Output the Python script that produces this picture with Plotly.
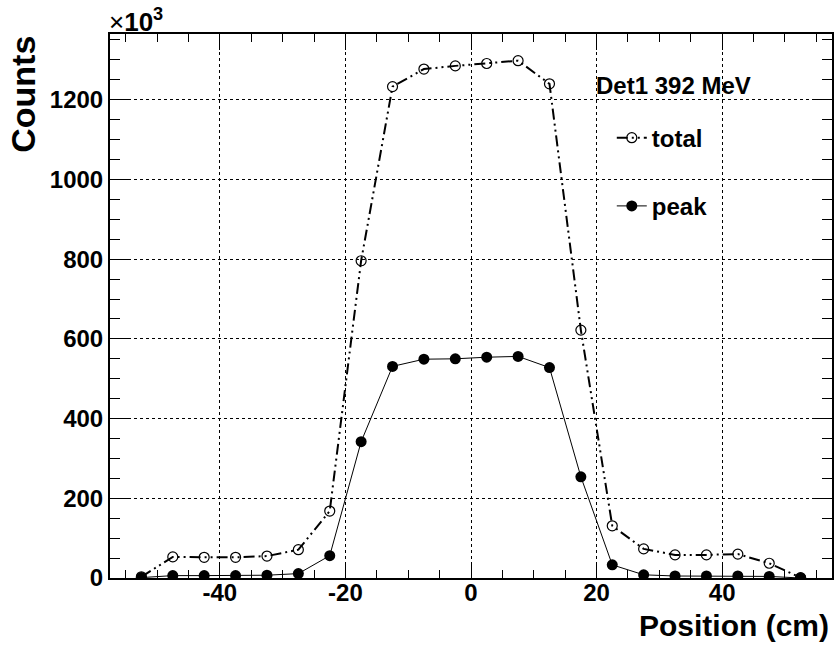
import plotly.graph_objects as go

position = [-52.5, -47.5, -42.5, -37.5, -32.5, -27.5, -22.5, -17.5, -12.5, -7.5, -2.5,
            2.5, 7.5, 12.5, 17.5, 22.5, 27.5, 32.5, 37.5, 42.5, 47.5, 52.5]
total = [3, 53, 52, 52, 55, 71, 168, 796, 1233, 1277, 1285,
         1291, 1298, 1240, 622, 131, 73, 58, 58, 60, 37, 1]
peak = [1, 6, 6, 6, 7, 11, 56, 342, 531, 549, 550,
        554, 556, 528, 254, 33, 8, 5, 5, 5, 4, 0]
x_tickvals = [-40, -20, 0, 20, 40]
x_ticktext = ["-40", "-20", "0", "20", "40"]

FONT = "Liberation Sans, Arial, Helvetica, sans-serif"

fig = go.Figure()
fig.add_trace(go.Scatter(
    x=position, y=total, name="total", mode="lines+markers", legendgroup="a",
    line=dict(color="black", width=2, dash="11px,4px,2px,4px,2px,4px"),
    marker=dict(symbol="circle-open", size=10, color="black", line=dict(width=1.2)),
))
fig.add_trace(go.Scatter(
    x=position, y=peak, name="peak", mode="lines+markers", legendgroup="b",
    line=dict(color="black", width=1),
    marker=dict(symbol="circle", size=11, color="black"),
))

axis_common = dict(
    showline=True, linecolor="black", linewidth=2, mirror="ticks",
    ticks="inside", tickcolor="black", tickwidth=1,
    showgrid=True, gridcolor="black", griddash="dot", gridwidth=1,
    zeroline=False,
    tickfont=dict(family=FONT, size=24, color="black", weight="bold"),
)

fig.update_xaxes(
    range=[-57.5, 57.5], tickmode="array", tickvals=x_tickvals, ticktext=x_ticktext,
    ticklen=16,
    minor=dict(dtick=5, tick0=0, ticks="inside", ticklen=8, tickcolor="black", showgrid=False),
    ticklabelstandoff=-8,
    **axis_common,
)
fig.update_yaxes(
    range=[0, 1365], tick0=0, dtick=200, ticklen=20,
    minor=dict(dtick=50, ticks="inside", ticklen=10, tickcolor="black", showgrid=False),
    ticklabelstandoff=0,
    **axis_common,
)

fig.add_annotation(text="Det1 392 MeV", xref="paper", yref="paper",
                   x=0.67, y=0.905, xanchor="left", yanchor="middle", showarrow=False,
                   font=dict(family=FONT, size=24, color="black", weight="bold"))
fig.add_annotation(text="Counts", xref="paper", yref="paper",
                   x=-0.1215, y=1.0, xanchor="center", yanchor="top", textangle=-90,
                   showarrow=False,
                   font=dict(family=FONT, size=34, color="black", weight="bold"))
fig.add_annotation(text="Position (cm)", xref="paper", yref="paper",
                   x=0.9985, y=-0.088, xanchor="right", yanchor="middle",
                   showarrow=False,
                   font=dict(family=FONT, size=30, color="black", weight="bold"))
fig.add_annotation(text="×<b>10</b><sup><b>3</b></sup>", xref="paper", yref="paper",
                   x=-0.004, y=0.99, xanchor="left", yanchor="bottom",
                   showarrow=False,
                   font=dict(family=FONT, size=26, color="black"))

fig.update_layout(
    width=838, height=648,
    margin=dict(l=110, r=4, t=34, b=70),
    paper_bgcolor="white", plot_bgcolor="white",
    showlegend=True,
    legend=dict(x=0.695, y=0.85, xanchor="left", yanchor="top",
                bgcolor="rgba(0,0,0,0)", borderwidth=0,
                traceorder="grouped", tracegroupgap=34, itemwidth=30,
                font=dict(family=FONT, size=24, color="black", weight="bold")),
)

fig.write_html("out.html")
